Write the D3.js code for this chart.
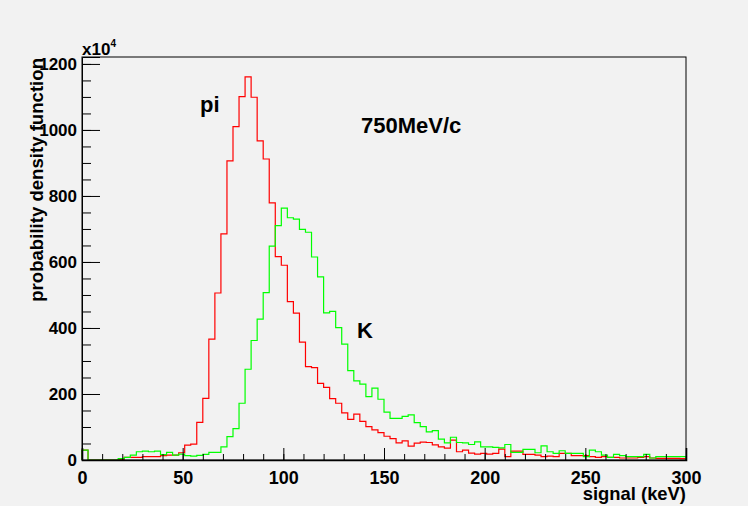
<!DOCTYPE html>
<html>
<head>
<meta charset="utf-8">
<script src="https://cdn.jsdelivr.net/npm/d3@7"></script>
<style>
  html, body { margin: 0; padding: 0; background: #f2f2f2; }
  svg { display: block; font-family: "Liberation Sans", Arial, Helvetica, sans-serif; font-weight: bold; }
</style>
</head>
<body>
<script>
// histogram settings: 100 bins of 3 keV from 0 to 300
const binEdges = d3.range(0, 301, 3);

// pi histogram (units of 1e-4)
const piCounts = [
  30, 0, 0, 0, 0, 0, 2, 8, 8, 8,
  10, 10, 10, 13, 15, 15, 22, 45, 48, 114,
  187, 366, 506, 685, 906, 1010, 1101, 1161, 1099, 967,
  912, 779, 616, 590, 480, 445, 357, 283, 280, 232,
  220, 186, 172, 143, 123, 139, 117, 101, 91, 83,
  72, 65, 52, 58, 42, 51, 54, 53, 46, 40,
  36, 60, 25, 30, 21, 18, 20, 18, 20, 33,
  10, 27, 27, 17, 17, 15, 10, 12, 10, 20,
  20, 13, 13, 13, 10, 8, 10, 8, 8, 6,
  6, 6, 8, 10, 6, 5, 5, 5, 5, 4
];

// K histogram (units of 1e-4)
const kCounts = [
  30, 0, 0, 0, 0, 0, 4, 8, 15, 25,
  27, 25, 27, 16, 23, 15, 18, 13, 12, 14,
  17, 23, 23, 40, 71, 95, 172, 275, 362, 427,
  507, 648, 710, 763, 734, 730, 699, 690, 615, 555,
  446, 450, 401, 351, 271, 240, 230, 192, 218, 184,
  145, 126, 126, 132, 137, 113, 101, 85, 89, 63,
  52, 69, 53, 52, 47, 55, 40, 40, 38, 37,
  47, 23, 23, 32, 32, 22, 43, 25, 20, 28,
  20, 20, 20, 10, 30, 25, 15, 8, 17, 13,
  10, 10, 10, 17, 6, 10, 10, 10, 10, 10
];

const xTicks = [0, 50, 100, 150, 200, 250, 300];
const yTicks = [0, 200, 400, 600, 800, 1000, 1200];

const W = 748, H = 506;
const margin = { top: 57, right: 62, bottom: 46, left: 82 };
const width = W - margin.left - margin.right;
const height = H - margin.top - margin.bottom;

const svg = d3.select("body")
  .append("svg")
  .attr("width", W)
  .attr("height", H);

svg.append("rect")
  .attr("width", W).attr("height", H)
  .attr("fill", "#f2f2f2");

const g = svg.append("g")
  .attr("transform", `translate(${margin.left},${margin.top})`);

const x = d3.scaleLinear().domain([0, 300]).range([0, width]);
const y = d3.scaleLinear().domain([0, 1221]).range([height, 0]);

// step outline like ROOT's HIST option
function stepLine(counts) {
  const pts = [[x(binEdges[0]), y(0)]];
  counts.forEach((c, i) => {
    pts.push([x(binEdges[i]), y(c)]);
    pts.push([x(binEdges[i + 1]), y(c)]);
  });
  pts.push([x(binEdges[counts.length]), y(0)]);
  return d3.line()(pts);
}

g.append("path")
  .attr("d", stepLine(piCounts))
  .attr("fill", "none")
  .attr("stroke", "#ff0000")
  .attr("stroke-width", 1.2);

g.append("path")
  .attr("d", stepLine(kCounts))
  .attr("fill", "none")
  .attr("stroke", "#00ff00")
  .attr("stroke-width", 1.2);

// frame
g.append("rect")
  .attr("width", width).attr("height", height)
  .attr("fill", "none")
  .attr("stroke", "#000")
  .attr("stroke-width", 1);

// x axis: minor ticks then major ticks with labels
g.append("g")
  .attr("transform", `translate(0,${height})`)
  .call(d3.axisBottom(x).tickValues(d3.range(0, 301, 10)).tickSize(-6).tickFormat(""))
  .call(a => a.select(".domain").remove());

const xAxis = g.append("g")
  .attr("transform", `translate(0,${height})`)
  .call(d3.axisBottom(x).tickValues(xTicks).tickSize(-12).tickPadding(11).tickFormat(d3.format("d")));
xAxis.select(".domain").attr("stroke-width", 1.6);
xAxis.selectAll("text").attr("font-size", 18).attr("fill", "#000");

// y axis
g.append("g")
  .call(d3.axisLeft(y).tickValues(d3.range(0, 1201, 50)).tickSize(-9).tickFormat(""))
  .call(a => a.select(".domain").remove());

const yAxis = g.append("g")
  .call(d3.axisLeft(y).tickValues(yTicks).tickSize(-18).tickPadding(5).tickFormat(d3.format("d")));
yAxis.selectAll("text").attr("font-size", 17).attr("fill", "#000");

g.selectAll(".tick line").attr("stroke", "#000");

// exponent label
const expo = svg.append("text")
  .attr("x", margin.left)
  .attr("y", 55)
  .attr("font-size", 17);
expo.append("tspan").text("x10");
expo.append("tspan").attr("font-size", 10).attr("dy", -8).text("4");

// axis titles
svg.append("text")
  .attr("x", margin.left + width)
  .attr("y", 500)
  .attr("text-anchor", "end")
  .attr("font-size", 18.4)
  .text("signal (keV)");

svg.append("text")
  .attr("transform", `translate(43,${margin.top + 1}) rotate(-90)`)
  .attr("text-anchor", "end")
  .attr("font-size", 18.6)
  .text("probability density function");

// labels in the plot
svg.append("text").attr("x", 200).attr("y", 112).attr("font-size", 22).text("pi");
svg.append("text").attr("x", 361).attr("y", 133).attr("font-size", 22).text("750MeV/c");
svg.append("text").attr("x", 357).attr("y", 338).attr("font-size", 22).text("K");
</script>
</body>
</html>
